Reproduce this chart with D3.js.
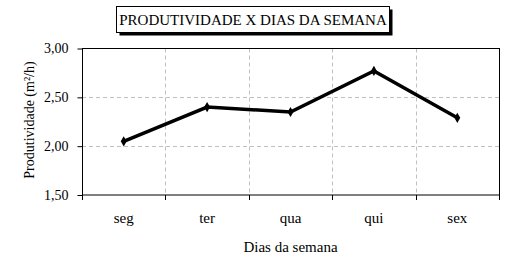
<!DOCTYPE html>
<html>
<head>
<meta charset="utf-8">
<script src="https://cdn.jsdelivr.net/npm/d3@7"></script>
<style>
  body { margin: 0; background: #fff; }
</style>
</head>
<body>
<svg></svg>
<script>
let width = 515;
let height = 268;

let days = ["seg", "ter", "qua", "qui", "sex"];
let produtividade = [2.05, 2.40, 2.35, 2.77, 2.29];
let yTicks = [1.5, 2.0, 2.5, 3.0];

let plotLeft = 82, plotRight = 499, plotTop = 48.5, plotBottom = 195;
let serif = "'Liberation Serif', 'Times New Roman', serif";

let svg = d3.select("svg")
            .attr("width", width)
            .attr("height", height)

let xScale = d3.scaleBand()
                .domain(days)
                .range([plotLeft, plotRight])

let yScale = d3.scaleLinear()
                .domain([1.5, 3.0])
                .range([plotBottom, plotTop])

let fmt = d => d3.format(".2f")(d).replace(".", ",");

// grid lines
svg.append("g")
    .selectAll("line")
    .data(yTicks.slice(1, -1))
    .enter()
    .append("line")
    .attr("x1", plotLeft).attr("x2", plotRight)
    .attr("y1", d => Math.round(yScale(d)) + 0.5)
    .attr("y2", d => Math.round(yScale(d)) + 0.5)
    .attr("stroke", "#c0c0c0")
    .attr("stroke-dasharray", "4,3")

svg.append("g")
    .selectAll("line")
    .data(days.slice(1))
    .enter()
    .append("line")
    .attr("x1", d => Math.round(xScale(d)) + 0.5)
    .attr("x2", d => Math.round(xScale(d)) + 0.5)
    .attr("y1", plotTop).attr("y2", plotBottom)
    .attr("stroke", "#c0c0c0")
    .attr("stroke-dasharray", "4,3")

// plot border
svg.append("rect")
    .attr("x", plotLeft + 0.5)
    .attr("y", plotTop)
    .attr("width", plotRight - plotLeft)
    .attr("height", plotBottom - plotTop)
    .attr("fill", "none")
    .attr("stroke", "#000")

let yAxis = d3.axisLeft(yScale)
                .tickValues(yTicks)
                .tickFormat(fmt)
                .tickSize(5)
                .tickSizeOuter(0)
                .tickPadding(9)

let yg = svg.append("g")
    .attr("transform", "translate(" + (plotLeft + 0.5) + ", 0)")
    .call(yAxis)
    .attr("font-family", serif)
    .attr("font-size", 14)
yg.select(".domain").remove()

// x labels; ticks sit at category boundaries
let xAxis = d3.axisBottom(xScale)
                .tickSize(0)
                .tickPadding(17)

let xg = svg.append("g")
    .attr("transform", "translate(0, " + plotBottom + ")")
    .call(xAxis)
    .attr("font-family", serif)
    .attr("font-size", 15)
xg.select(".domain").remove()

svg.append("g")
    .selectAll("line")
    .data(days.map(d => xScale(d)).concat([plotRight]))
    .enter()
    .append("line")
    .attr("x1", d => Math.round(d) + 0.5)
    .attr("x2", d => Math.round(d) + 0.5)
    .attr("y1", plotBottom)
    .attr("y2", plotBottom + 5)
    .attr("stroke", "#000")

// series line
let cx = (d, i) => xScale(days[i]) + xScale.bandwidth() / 2;

let line = d3.line()
    .x(cx)
    .y(d => yScale(d))

svg.append("path")
    .datum(produtividade)
    .attr("d", line)
    .attr("fill", "none")
    .attr("stroke", "#000")
    .attr("stroke-width", 3.5)

svg.append("g")
    .selectAll("path")
    .data(produtividade)
    .enter()
    .append("path")
    .attr("d", d3.symbol(d3.symbolDiamond, 30))
    .attr("transform", (d, i) => "translate(" + cx(d, i) + "," + yScale(d) + ")")
    .attr("fill", "#000")

// axis titles
svg.append("text")
    .attr("x", (plotLeft + plotRight) / 2)
    .attr("y", 252)
    .attr("font-family", serif)
    .attr("font-size", 15)
    .style("text-anchor", "middle")
    .text("Dias da semana")

svg.append("text")
    .attr("transform", "translate(34, 120) rotate(-90)")
    .attr("font-family", serif)
    .attr("font-size", 14)
    .style("text-anchor", "middle")
    .text("Produtividade (m²/h)")

// title box with shadow
svg.append("rect")
    .attr("x", 119.5).attr("y", 9.5)
    .attr("width", 273).attr("height", 26)
    .attr("fill", "#000")
svg.append("rect")
    .attr("x", 116.5).attr("y", 6.5)
    .attr("width", 273).attr("height", 26)
    .attr("fill", "#fff")
    .attr("stroke", "#000")

svg.append("text")
    .attr("x", 253)
    .attr("y", 25)
    .attr("font-family", serif)
    .attr("font-size", 15)
    .style("text-anchor", "middle")
    .text("PRODUTIVIDADE X DIAS DA SEMANA")
</script>
</body>
</html>
